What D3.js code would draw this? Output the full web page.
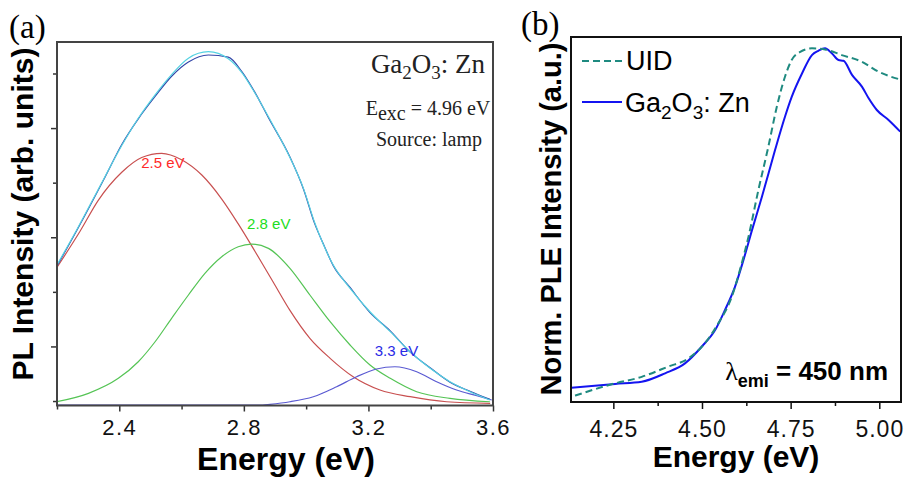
<!DOCTYPE html>
<html lang="en">
<head>
<meta charset="UTF-8">
<title>PL and PLE spectra</title>
<script src="https://d3js.org/d3.v7.min.js"></script>
<style>
  body { margin: 0; background: #fff; }
</style>
</head>
<body>
<script>
// ---- panel (a): PL spectrum, energy (eV) vs counts (arb.)
const plEnergy = [2.20, 2.263, 2.354, 2.408, 2.461, 2.515, 2.568, 2.622, 2.686, 2.750, 2.793, 2.836, 2.879, 2.948, 2.991, 3.028, 3.055, 3.087, 3.141, 3.205, 3.270, 3.334, 3.398, 3.462, 3.526, 3.590];
const plFit    = [2492, 3133, 4110, 4680, 5180, 5610, 5980, 6280, 6399, 6270, 6020, 5637, 5208, 4460, 3900, 3260, 2870, 2492, 2065, 1636, 1270, 903, 599, 354, 170, 18];
const plData   = [2473, 3120, 4100, 4700, 5170, 5580, 5950, 6211, 6339, 6300, 6040, 5650, 5190, 4470, 3890, 3240, 2880, 2480, 2080, 1620, 1285, 895, 610, 345, 180, 30];

const peak25E = [2.199, 2.274, 2.333, 2.408, 2.472, 2.536, 2.600, 2.665, 2.729, 2.782, 2.836, 2.895, 2.948, 3.012, 3.077, 3.151, 3.237, 3.334, 3.451, 3.591];
const peak25  = [2440, 3110, 3680, 4190, 4460, 4538, 4420, 4140, 3700, 3245, 2740, 2170, 1660, 1149, 782, 445, 202, 79, -13, -42];

const peak28E = [2.199, 2.301, 2.397, 2.461, 2.515, 2.568, 2.622, 2.675, 2.729, 2.782, 2.825, 2.879, 2.948, 3.012, 3.077, 3.141, 3.205, 3.270, 3.355, 3.462, 3.590];
const peak28  = [-13, 141, 416, 720, 1086, 1515, 1942, 2339, 2644, 2827, 2876, 2797, 2431, 1942, 1453, 1026, 660, 416, 170, 49, -13];

const peak33E = [2.20, 2.66, 2.86, 2.884, 2.948, 3.023, 3.098, 3.162, 3.226, 3.285, 3.355, 3.419, 3.483, 3.548, 3.596];
const peak33  = [-73, -73, -73, -60, -13, 79, 262, 445, 586, 628, 537, 354, 202, 97, 18];

const peakLabels = [
  { text: '2.5 eV', e: 2.54, c: 4260, color: '#ff2a2a' },
  { text: '2.8 eV', e: 2.88, c: 3150, color: '#22dd22' },
  { text: '3.3 eV', e: 3.29, c: 820, color: '#2a2ae6' }
];
const plTicks = [2.4, 2.8, 3.2, 3.6];
const plMinorTicks = [2.2, 2.6, 3.0, 3.4];

// ---- panel (b): normalised PLE spectra
const pleUidE = [4.142, 4.245, 4.330, 4.405, 4.462, 4.504, 4.546, 4.584, 4.612, 4.631, 4.659, 4.687, 4.711, 4.734, 4.753, 4.777, 4.810, 4.847, 4.894, 4.951, 4.998, 5.059];
const pleUid  = [0.018, 0.050, 0.071, 0.100, 0.123, 0.161, 0.222, 0.297, 0.391, 0.466, 0.598, 0.720, 0.833, 0.918, 0.965, 0.988, 0.998, 0.995, 0.979, 0.960, 0.932, 0.910];
const pleZnE  = [4.132, 4.255, 4.330, 4.396, 4.452, 4.499, 4.537, 4.565, 4.593, 4.617, 4.641, 4.669, 4.706, 4.734, 4.753, 4.782, 4.810, 4.828, 4.847, 4.866, 4.885, 4.899, 4.923, 4.951, 4.970, 4.993, 5.026, 5.059];
const pleZn   = [0.040, 0.051, 0.057, 0.081, 0.109, 0.156, 0.203, 0.260, 0.325, 0.401, 0.485, 0.579, 0.711, 0.805, 0.861, 0.927, 0.979, 0.991, 0.998, 0.984, 0.965, 0.963, 0.923, 0.890, 0.857, 0.824, 0.796, 0.763];
const pleTicks = [4.25, 4.50, 4.75, 5.00];
const pleMinorTicks = [4.375, 4.625, 4.875];

const width = 909, height = 477;
const svg = d3.select('body').append('svg')
  .attr('width', width)
  .attr('height', height);

const sans = 'Arial, "Liberation Sans", sans-serif';
const serif = '"Times New Roman", "Liberation Serif", serif';

function zip(xs, ys) { return xs.map((x, i) => [x, ys[i]]); }

// ================= panel (a)
const a = { left: 57, right: 493, top: 42, bottom: 405.5 };
const xA = d3.scaleLinear().domain([2.2, 3.6]).range([a.left, a.right]);
const yA = d3.scaleLinear().domain([-82, 6577]).range([a.bottom, a.top]);

svg.append('clipPath').attr('id', 'clipA')
  .append('rect').attr('x', a.left).attr('y', a.top)
  .attr('width', a.right - a.left).attr('height', a.bottom - a.top);

const lineA = d3.line().x(d => xA(d[0])).y(d => yA(d[1])).curve(d3.curveMonotoneX);
const gA = svg.append('g').attr('clip-path', 'url(#clipA)');

[
  { e: peak25E, v: peak25, color: '#c85050' },
  { e: peak28E, v: peak28, color: '#55c455' },
  { e: peak33E, v: peak33, color: '#5a5ad2' },
  { e: plEnergy, v: plData, color: '#3346a8' },
  { e: plEnergy, v: plFit, color: '#55d2e2' }
].forEach(s => {
  gA.append('path')
    .attr('d', lineA(zip(s.e, s.v)))
    .attr('fill', 'none')
    .attr('stroke', s.color)
    .attr('stroke-width', 1.2);
});

peakLabels.forEach(p => {
  svg.append('text')
    .attr('x', xA(p.e)).attr('y', yA(p.c))
    .attr('text-anchor', 'middle')
    .style('font-family', sans).style('font-size', '15px')
    .attr('fill', p.color)
    .text(p.text);
});

// axes (a)
svg.append('g').attr('transform', `translate(0,${a.bottom})`)
  .call(d3.axisBottom(xA).tickValues(plTicks).tickSize(6).tickPadding(8).tickFormat(d3.format('.1f')))
  .call(g => g.select('.domain').remove())
  .call(g => g.selectAll('line').attr('stroke', '#333').attr('stroke-width', 1.5))
  .call(g => g.selectAll('text').style('font-family', sans).style('font-size', '22px')
    .style('letter-spacing', '1.5px').attr('fill', '#111'));
svg.append('g').attr('transform', `translate(0,${a.bottom})`)
  .call(d3.axisBottom(xA).tickValues(plMinorTicks).tickSize(4).tickFormat(''))
  .call(g => g.select('.domain').remove())
  .call(g => g.selectAll('line').attr('stroke', '#333').attr('stroke-width', 1.5));
svg.append('g').attr('transform', `translate(${a.left},0)`)
  .call(d3.axisLeft(yA).tickValues([1000, 3000, 5000]).tickSize(6).tickFormat(''))
  .call(g => g.select('.domain').remove())
  .call(g => g.selectAll('line').attr('stroke', '#333').attr('stroke-width', 1.5));
svg.append('g').attr('transform', `translate(${a.left},0)`)
  .call(d3.axisLeft(yA).tickValues([0, 2000, 4000, 6000]).tickSize(4).tickFormat(''))
  .call(g => g.select('.domain').remove())
  .call(g => g.selectAll('line').attr('stroke', '#333').attr('stroke-width', 1.5));

svg.append('rect')
  .attr('x', a.left).attr('y', a.top)
  .attr('width', a.right - a.left).attr('height', a.bottom - a.top)
  .attr('fill', 'none').attr('stroke', '#444').attr('stroke-width', 2);

svg.append('text')
  .attr('x', (a.left + a.right) / 2 + 11).attr('y', 470)
  .attr('text-anchor', 'middle')
  .style('font-family', sans).style('font-size', '32px').style('font-weight', 'bold')
  .text('Energy (eV)');
svg.append('text')
  .attr('transform', 'translate(33,214) rotate(-90)')
  .attr('text-anchor', 'middle')
  .style('font-family', sans).style('font-size', '30px').style('font-weight', 'bold')
  .text('PL Intensity (arb. units)');
svg.append('text')
  .attr('x', 9).attr('y', 38)
  .style('font-family', serif).style('font-size', '33px')
  .text('(a)');

// annotation (a)
const t1 = svg.append('text').attr('x', 428).attr('y', 73).attr('text-anchor', 'middle')
  .style('font-family', serif).style('font-size', '27px').attr('fill', '#222');
t1.append('tspan').text('Ga');
t1.append('tspan').attr('dy', 6).style('font-size', '19px').text('2');
t1.append('tspan').attr('dy', -6).text('O');
t1.append('tspan').attr('dy', 6).style('font-size', '19px').text('3');
t1.append('tspan').attr('dy', -6).text(': Zn');

const t2 = svg.append('text').attr('x', 428).attr('y', 115).attr('text-anchor', 'middle')
  .style('font-family', serif).style('font-size', '20px').attr('fill', '#222');
t2.append('tspan').text('E');
t2.append('tspan').attr('dy', 5).text('exc');
t2.append('tspan').attr('dy', -5).text(' = 4.96 eV');

svg.append('text').attr('x', 429).attr('y', 146).attr('text-anchor', 'middle')
  .style('font-family', serif).style('font-size', '20px').attr('fill', '#222')
  .text('Source: lamp');

// ================= panel (b)
const b = { left: 571, right: 901, top: 37, bottom: 402 };
const xB = d3.scaleLinear().domain([4.1306, 5.0612]).range([b.left, b.right]);
const yB = d3.scaleLinear().domain([0, 1.03]).range([b.bottom, b.top]);

svg.append('clipPath').attr('id', 'clipB')
  .append('rect').attr('x', b.left).attr('y', b.top)
  .attr('width', b.right - b.left).attr('height', b.bottom - b.top);

const lineB = d3.line().x(d => xB(d[0])).y(d => yB(d[1])).curve(d3.curveMonotoneX);
const gB = svg.append('g').attr('clip-path', 'url(#clipB)');

gB.append('path')
  .attr('d', lineB(zip(pleZnE, pleZn)))
  .attr('fill', 'none').attr('stroke', '#1414f0').attr('stroke-width', 2);
gB.append('path')
  .attr('d', lineB(zip(pleUidE, pleUid)))
  .attr('fill', 'none').attr('stroke', '#1f8a80').attr('stroke-width', 2)
  .attr('stroke-dasharray', '7,4');

svg.append('g').attr('transform', `translate(0,${b.bottom})`)
  .call(d3.axisBottom(xB).tickValues(pleTicks).tickSize(7).tickPadding(12).tickFormat(d3.format('.2f')))
  .call(g => g.select('.domain').remove())
  .call(g => g.selectAll('line').attr('stroke', '#111').attr('stroke-width', 1.5))
  .call(g => g.selectAll('text').style('font-family', sans).style('font-size', '23px')
    .style('letter-spacing', '1px').attr('fill', '#111'));
svg.append('g').attr('transform', `translate(0,${b.bottom})`)
  .call(d3.axisBottom(xB).tickValues(pleMinorTicks).tickSize(4).tickFormat(''))
  .call(g => g.select('.domain').remove())
  .call(g => g.selectAll('line').attr('stroke', '#111').attr('stroke-width', 1.5));

svg.append('rect')
  .attr('x', b.left).attr('y', b.top)
  .attr('width', b.right - b.left).attr('height', b.bottom - b.top)
  .attr('fill', 'none').attr('stroke', '#111').attr('stroke-width', 2);

svg.append('text')
  .attr('x', 736).attr('y', 467)
  .attr('text-anchor', 'middle')
  .style('font-family', sans).style('font-size', '30px').style('font-weight', 'bold')
  .text('Energy (eV)');
svg.append('text')
  .attr('transform', 'translate(561,219) rotate(-90)')
  .attr('text-anchor', 'middle')
  .style('font-family', sans).style('font-size', '29px').style('font-weight', 'bold')
  .text('Norm. PLE Intensity (a.u.)');
svg.append('text')
  .attr('x', 521).attr('y', 35)
  .style('font-family', serif).style('font-size', '33px')
  .text('(b)');

// legend (b)
const legend = svg.append('g');
legend.append('line').attr('x1', 582).attr('x2', 622).attr('y1', 61).attr('y2', 61)
  .attr('stroke', '#1f8a80').attr('stroke-width', 2).attr('stroke-dasharray', '7,4');
legend.append('text').attr('x', 626).attr('y', 70)
  .style('font-family', sans).style('font-size', '27px').text('UID');
legend.append('line').attr('x1', 582).attr('x2', 622).attr('y1', 102).attr('y2', 102)
  .attr('stroke', '#1414f0').attr('stroke-width', 2);
const lt = legend.append('text').attr('x', 625).attr('y', 112)
  .style('font-family', sans).style('font-size', '27px');
lt.append('tspan').text('Ga');
lt.append('tspan').attr('dy', 7).style('font-size', '19px').text('2');
lt.append('tspan').attr('dy', -7).text('O');
lt.append('tspan').attr('dy', 7).style('font-size', '19px').text('3');
lt.append('tspan').attr('dy', -7).text(': Zn');

const lam = svg.append('text').attr('x', 888).attr('y', 380).attr('text-anchor', 'end')
  .style('font-family', sans).style('font-size', '26px').style('font-weight', 'bold');
lam.append('tspan').style('font-family', serif).style('font-weight', 'normal').text('λ');
lam.append('tspan').attr('dy', 7).style('font-size', '18px').text('emi');
lam.append('tspan').attr('dy', -7).text(' = 450 nm');
</script>
</body>
</html>
